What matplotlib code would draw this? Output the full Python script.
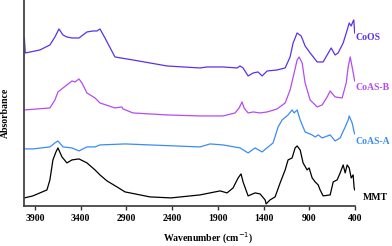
import numpy as np
import matplotlib
matplotlib.use("Agg")
import matplotlib.pyplot as plt

plt.rcParams['font.family'] = ['Liberation Serif', 'DejaVu Serif']

# wavenumber (cm-1) / absorbance (offset, arbitrary units)
coos_wn = [4015, 4005, 3845, 3736, 3681, 3637, 3593, 3550, 3495, 3418, 3331, 3265, 3222, 3189,
           3134, 3025, 2828, 2642, 2456, 2095, 2019, 1844, 1690, 1658, 1625, 1570, 1515, 1461,
           1417, 1362, 1253, 1165, 1111, 1078, 1034, 990, 947, 892, 815, 750, 706, 662, 619,
           586, 531, 487, 465, 443, 422, 415, 405]
coos_a = [1.68, 1.53, 1.56, 1.61, 1.69, 1.77, 1.71, 1.69, 1.68, 1.68, 1.74, 1.75, 1.75, 1.77,
          1.68, 1.49, 1.46, 1.43, 1.40, 1.38, 1.39, 1.39, 1.38, 1.40, 1.38, 1.30, 1.33, 1.34,
          1.30, 1.35, 1.36, 1.38, 1.49, 1.63, 1.73, 1.70, 1.60, 1.53, 1.44, 1.44, 1.51, 1.58, 1.51,
          1.53, 1.63, 1.76, 1.83, 1.80, 1.85, 1.86, 1.73]

coasb_wn = [4015, 3736, 3681, 3648, 3593, 3550, 3495, 3462, 3418, 3386, 3331, 3243, 3189, 3025,
            2950, 2937, 2828, 2456, 2095, 1844, 1712, 1668, 1636, 1614, 1570, 1515, 1439, 1362,
            1253, 1165, 1111, 1067, 1034, 1012, 979, 947, 892, 815, 761, 706, 673, 619, 542,
            498, 476, 454, 433, 411, 405]
coasb_a = [0.96, 0.98, 1.06, 1.14, 1.18, 1.21, 1.25, 1.24, 1.27, 1.23, 1.13, 1.08, 1.03, 0.98,
           0.99, 0.97, 0.93, 0.91, 0.90, 0.90, 0.93, 0.98, 1.04, 0.98, 0.93, 0.94, 0.93, 0.94,
           0.97, 1.03, 1.16, 1.33, 1.46, 1.49, 1.43, 1.23, 1.06, 0.99, 1.01, 1.09, 1.15, 1.09, 1.08,
           1.23, 1.39, 1.49, 1.39, 1.28, 1.25]

coasa_wn = [4015, 3922, 3736, 3681, 3648, 3593, 3495, 3418, 3331, 3243, 3189, 2915, 2642, 2095,
            1986, 1844, 1658, 1570, 1494, 1417, 1351, 1297, 1242, 1198, 1133, 1089, 1067, 1034,
            1001, 947, 870, 837, 804, 761, 673, 619, 564, 509, 476, 465, 433, 411, 405]
coasa_a = [0.57, 0.57, 0.59, 0.63, 0.65, 0.59, 0.58, 0.55, 0.59, 0.59, 0.61, 0.62, 0.61, 0.59,
           0.62, 0.61, 0.58, 0.53, 0.58, 0.54, 0.59, 0.63, 0.79, 0.86, 0.91, 0.96, 0.93, 0.96,
           0.86, 0.74, 0.71, 0.69, 0.71, 0.68, 0.71, 0.65, 0.68, 0.79, 0.86, 0.90, 0.83, 0.74, 0.72]

mmt_wn = [4015, 3922, 3768, 3736, 3703, 3670, 3648, 3604, 3550, 3495, 3418, 3331, 3243, 3189,
          3112, 3003, 2915, 2642, 2412, 2095, 1986, 1876, 1800, 1734, 1679, 1647, 1625, 1570,
          1494, 1439, 1384, 1373, 1330, 1275, 1220, 1165, 1133, 1089, 1056, 1034, 1001, 969,
          925, 903, 870, 837, 804, 783, 750, 673, 640, 597, 564, 531, 509, 487, 465, 443, 422,
          411, 405]
mmt_a = [0.08, 0.10, 0.16, 0.26, 0.46, 0.54, 0.58, 0.49, 0.43, 0.46, 0.47, 0.43, 0.36, 0.31,
         0.25, 0.19, 0.14, 0.09, 0.08, 0.11, 0.13, 0.15, 0.13, 0.18, 0.28, 0.32, 0.24, 0.10,
         0.13, 0.12, 0.06, 0.02, 0.06, 0.09, 0.23, 0.36, 0.46, 0.48, 0.58, 0.60, 0.56, 0.43,
         0.36, 0.38, 0.28, 0.24, 0.21, 0.16, 0.10, 0.11, 0.24, 0.26, 0.33, 0.41, 0.33, 0.41,
         0.38, 0.28, 0.31, 0.18, 0.16]

names = ['CoOS', 'CoAS-B', 'CoAS-A', 'MMT']
colors = ['#5a32e6', '#b44cf0', '#3a8cf5', '#000000']
label_y = [1.68, 1.18, 0.64, 0.08]
label_x = [400, 400, 400, 318]
xticks = [3900, 3400, 2900, 2400, 1900, 1400, 900, 400]

fig = plt.figure(figsize=(3.92, 2.46), dpi=100)
ax = fig.add_axes([0.061, 0.163, 0.845, 0.837])

series = [(coos_wn, coos_a), (coasb_wn, coasb_a), (coasa_wn, coasa_a), (mmt_wn, mmt_a)]
for (wn, a), c, name, lx, ly in zip(series, colors, names, label_x, label_y):
    ax.plot(wn, a, color=c, lw=0.9)
    ax.text(lx, ly, name, color=c, fontsize=7, fontweight='bold', ha='left', va='center',
            clip_on=False)

ax.set_xlim(4020, 400)
ax.set_ylim(0, 2.06)
ax.set_xticks(xticks)
ax.set_xticklabels([str(t) for t in xticks], fontsize=7, fontweight='bold')
ax.set_yticks([])
ax.tick_params(axis='x', direction='out', length=3, width=1, pad=3, color='#333333')
for s in ['top', 'right']:
    ax.spines[s].set_visible(False)
for s in ['left', 'bottom']:
    ax.spines[s].set_linewidth(1.3)
    ax.spines[s].set_color('#444444')

ax.set_xlabel('Wavenumber (cm$^{-1}$)', fontsize=7, fontweight='bold')
ax.xaxis.set_label_coords(0.556, -0.12)
ax.set_ylabel('Absorbance', fontsize=7, fontweight='bold')
ax.yaxis.set_label_coords(-0.042, 0.45)

fig.savefig('out.png', dpi=100)
